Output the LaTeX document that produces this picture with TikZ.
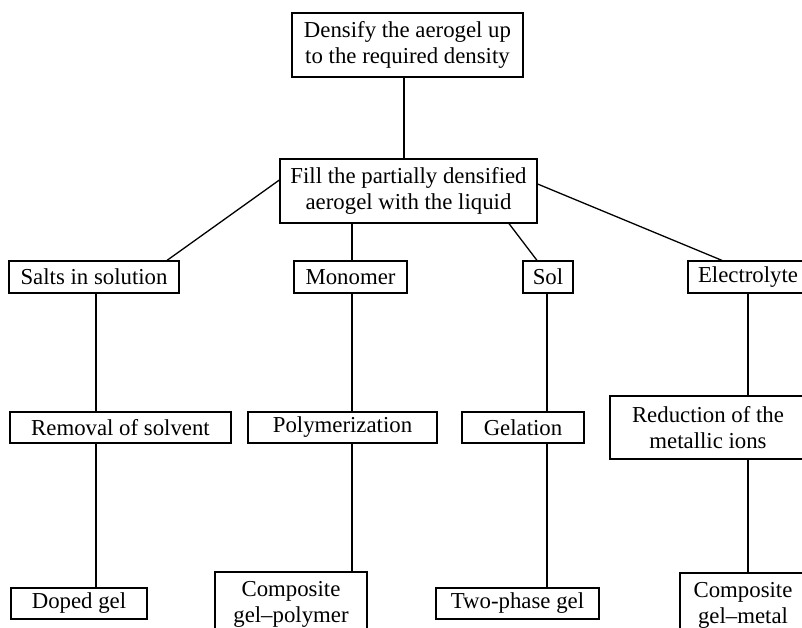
\documentclass[tikz,border=0pt]{standalone}
\usepackage{fontspec}
\setmainfont{Liberation Serif}
\begin{document}
\begin{tikzpicture}[x=1pt,y=-1pt,
  bx/.style={draw, line width=1.2pt, inner sep=0pt, align=center,
    font=\fontsize{22.8}{26}\selectfont},
  ln/.style={line width=1.3pt}]
\useasboundingbox (0,0) rectangle (802,628);
\clip (0,0) rectangle (802,628);
% row 1
\node[bx, minimum width=231, minimum height=64] (top) at (407.5,45) {Densify the aerogel up\\to the required density};
% row 2
\node[bx, minimum width=257, minimum height=64] (fill) at (408.5,191) {Fill the partially densified\\aerogel with the liquid};
% row 3
\node[bx, minimum width=170, minimum height=32] (salts) at (94,277) {Salts in solution};
\node[bx, minimum width=113, minimum height=32] (mono) at (350.5,277) {Monomer};
\node[bx, minimum width=50, minimum height=32] (sol) at (548,277) {Sol};
\node[bx, minimum width=120, minimum height=32] (elec) at (748,277) {Electrolyte};
% row 4
\node[bx, minimum width=221, minimum height=31] (removal) at (120.5,427.5) {Removal of solvent};
\node[bx, minimum width=189, minimum height=31] (poly) at (342.5,427.5) {Polymerization};
\node[bx, minimum width=122, minimum height=31] (gel) at (523,427.5) {Gelation};
\node[bx, minimum width=196, minimum height=63] (reduc) at (708,427.5) {Reduction of the\\metallic ions};
% row 5
\node[bx, minimum width=136, minimum height=31] (doped) at (79,603.5) {Doped gel};
\node[bx, minimum width=152, minimum height=64] (compoly) at (291,604) {Composite\\gel--polymer};
\node[bx, minimum width=163, minimum height=31] (twophase) at (517.5,603.5) {Two-phase gel};
\node[bx, minimum width=126, minimum height=64] (commetal) at (743,605) {Composite\\gel--metal};
% connectors
\draw[ln] ([xshift=-3.5]top.south) -- ([xshift=-3.5]top.south |- fill.north);
\draw[ln] ([yshift=11]fill.west) -- ([xshift=73]salts.north);
\draw[ln] ([xshift=1.5]mono.north |- fill.south) -- ([xshift=1.5]mono.north);
\draw[ln] ([xshift=100.5]fill.south) -- ([xshift=-11]sol.north);
\draw[ln] ([yshift=7]fill.east) -- ([xshift=-26]elec.north);
\draw[ln] ([xshift=2]salts.south) -- ([xshift=2]salts.south |- removal.north);
\draw[ln] ([xshift=2]salts.south |- removal.south) -- ([xshift=2]salts.south |- doped.north);
\draw[ln] ([xshift=1.5]mono.south) -- ([xshift=1.5]mono.south |- poly.north);
\draw[ln] ([xshift=1.5]mono.south |- poly.south) -- ([xshift=1.5]mono.south |- compoly.north);
\draw[ln] ([xshift=-1]sol.south) -- ([xshift=-1]sol.south |- gel.north);
\draw[ln] ([xshift=-1]sol.south |- gel.south) -- ([xshift=-1]sol.south |- twophase.north);
\draw[ln] (elec.south) -- (elec.south |- reduc.north);
\draw[ln] (elec.south |- reduc.south) -- (elec.south |- commetal.north);
\end{tikzpicture}
\end{document}
